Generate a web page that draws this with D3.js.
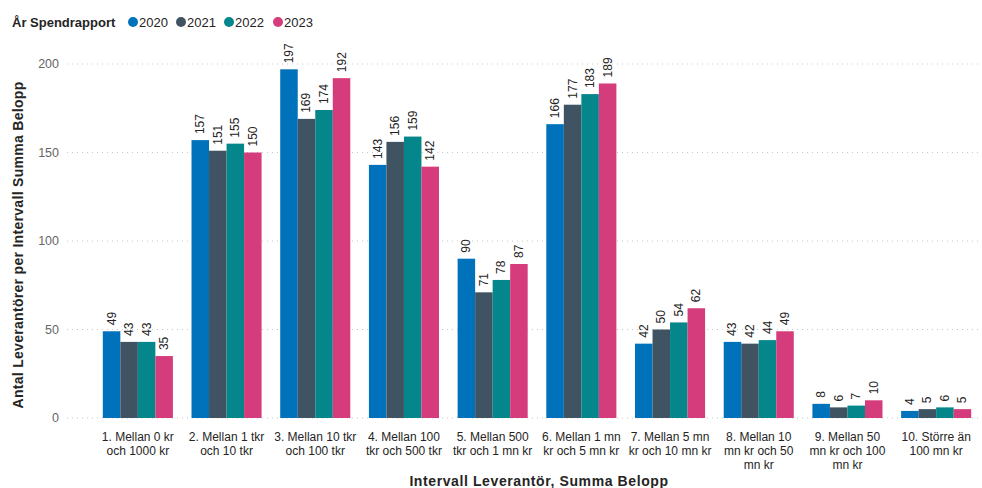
<!DOCTYPE html>
<html>
<head>
<meta charset="utf-8">
<script src="https://cdn.jsdelivr.net/npm/d3@7"></script>
<style>
  body { margin: 0; background: #fff; }
  svg { font-family: "Liberation Sans", Arial, sans-serif; }
</style>
</head>
<body>
<div id="chart"></div>
<script>
// categories and series
const categories = [
    ["1. Mellan 0 kr", "och 1000 kr"],
    ["2. Mellan 1 tkr", "och 10 tkr"],
    ["3. Mellan 10 tkr", "och 100 tkr"],
    ["4. Mellan 100", "tkr och 500 tkr"],
    ["5. Mellan 500", "tkr och 1 mn kr"],
    ["6. Mellan 1 mn", "kr och 5 mn kr"],
    ["7. Mellan 5 mn", "kr och 10 mn kr"],
    ["8. Mellan 10", "mn kr och 50", "mn kr"],
    ["9. Mellan 50", "mn kr och 100", "mn kr"],
    ["10. Större än", "100 mn kr"]
];
const years = ["2020", "2021", "2022", "2023"];
const v2020 = [49, 157, 197, 143, 90, 166, 42, 43, 8, 4];
const v2021 = [43, 151, 169, 156, 71, 177, 50, 42, 6, 5];
const v2022 = [43, 155, 174, 159, 78, 183, 54, 44, 7, 6];
const v2023 = [35, 150, 192, 142, 87, 189, 62, 49, 10, 5];
const yTicks = [0, 50, 100, 150, 200];
const colors = ["#0072BC", "#3F5362", "#05868A", "#D53C7B"];

const series = [v2020, v2021, v2022, v2023];
const width = 982, height = 488;

let svg = d3.select("#chart")
    .append("svg")
    .attr("width", width)
    .attr("height", height);

let x = d3.scaleBand()
    .domain(d3.range(categories.length))
    .range([93.5, 980.5])
    .paddingInner(0.21)
    .paddingOuter(0.105);

let xSub = d3.scaleBand()
    .domain(years)
    .range([0, x.bandwidth()]);

let y = d3.scaleLinear()
    .domain([0, 200])
    .range([418, 64]);

// gridlines + y tick labels
let grid = svg.append("g");
grid.selectAll("line").data(yTicks).enter()
    .append("line")
    .attr("x1", 67)
    .attr("x2", 980)
    .attr("y1", d => y(d))
    .attr("y2", d => y(d))
    .attr("stroke", "#c8c8c8")
    .attr("stroke-width", 1)
    .attr("stroke-dasharray", "1,4");

grid.selectAll("text").data(yTicks).enter()
    .append("text")
    .attr("x", 59)
    .attr("y", d => y(d) + 4)
    .attr("text-anchor", "end")
    .attr("fill", "#666")
    .style("font-size", "12.5px")
    .text(d => d);

// bars
let groups = svg.selectAll("g.grp")
    .data(categories.map((c, i) => i))
    .enter()
    .append("g")
    .attr("class", "grp")
    .attr("transform", i => `translate(${x(i)},0)`);

groups.selectAll("rect")
    .data(i => years.map((yr, j) => ({ yr: yr, j: j, v: series[j][i] })))
    .enter()
    .append("rect")
    .attr("x", d => xSub(d.yr))
    .attr("y", d => y(d.v))
    .attr("width", xSub.bandwidth())
    .attr("height", d => y(0) - y(d.v))
    .attr("fill", d => colors[d.j]);

groups.selectAll("text")
    .data(i => years.map((yr, j) => ({ yr: yr, j: j, v: series[j][i] })))
    .enter()
    .append("text")
    .attr("transform", d => `translate(${xSub(d.yr) + xSub.bandwidth() / 2 + 4},${y(d.v) - 6}) rotate(-90)`)
    .attr("text-anchor", "start")
    .attr("fill", "#252423")
    .style("font-size", "12px")
    .text(d => d.v);

// x tick labels
let xLabels = svg.append("g");
categories.forEach(function(lines, i) {
    let t = xLabels.append("text")
        .attr("text-anchor", "middle")
        .attr("fill", "#252423")
        .style("font-size", "12px");
    lines.forEach(function(line, k) {
        t.append("tspan")
            .attr("x", x(i) + x.bandwidth() / 2)
            .attr("y", 441 + k * 14)
            .text(line);
    });
});

// axis titles
svg.append("text")
    .attr("x", 539)
    .attr("y", 486)
    .attr("text-anchor", "middle")
    .attr("fill", "#252423")
    .style("font-size", "14px")
    .style("font-weight", "bold")
    .style("letter-spacing", "0.6px")
    .text("Intervall Leverantör, Summa Belopp");

svg.append("text")
    .attr("transform", `translate(23, 245) rotate(-90)`)
    .attr("text-anchor", "middle")
    .attr("fill", "#252423")
    .style("font-size", "14px")
    .style("font-weight", "bold")
    .style("letter-spacing", "0.3px")
    .text("Antal Leverantörer per Intervall Summa Belopp");

// legend
let legend = svg.append("g");
legend.append("text")
    .attr("x", 12)
    .attr("y", 27)
    .attr("fill", "#252423")
    .style("font-size", "13px")
    .style("font-weight", "bold")
    .text("År Spendrapport");

const legendX = [133, 181, 229, 278];
years.forEach(function(yr, j) {
    legend.append("circle")
        .attr("cx", legendX[j])
        .attr("cy", 22)
        .attr("r", 5)
        .attr("fill", colors[j]);
    legend.append("text")
        .attr("x", legendX[j] + 6)
        .attr("y", 27)
        .attr("fill", "#252423")
        .style("font-size", "13px")
        .text(yr);
});
</script>
</body>
</html>
